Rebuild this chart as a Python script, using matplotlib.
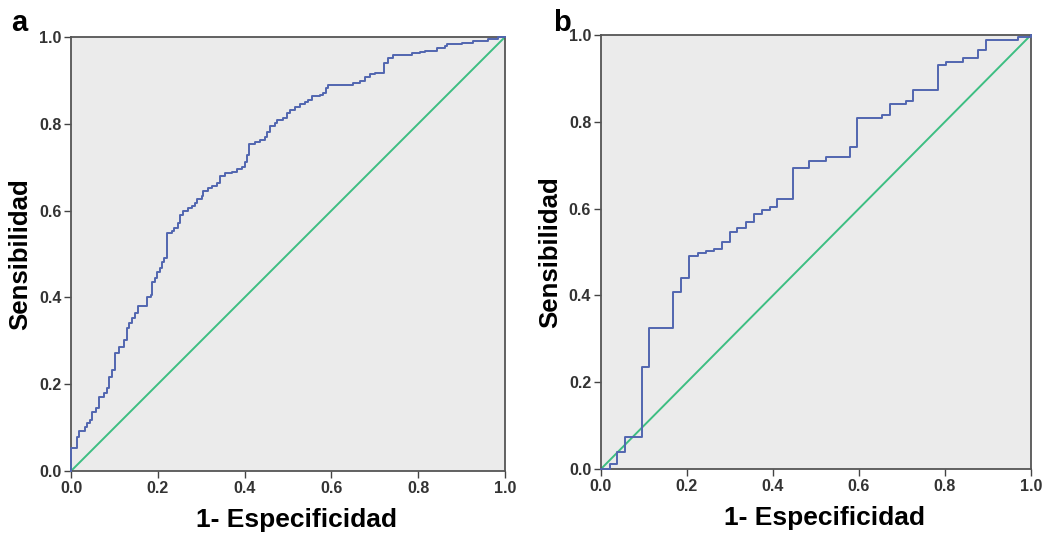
import matplotlib
matplotlib.use("Agg")
import matplotlib.pyplot as plt

# Panel a: ROC step points (1-specificity, sensitivity level after step)
fpr_a = [0.0, 0.014, 0.019, 0.031, 0.036, 0.044, 0.048, 0.058, 0.065, 0.077,
         0.082, 0.088, 0.094, 0.102, 0.111, 0.121, 0.128, 0.134, 0.140, 0.147,
         0.155, 0.176, 0.184, 0.186, 0.194, 0.197, 0.204, 0.209, 0.214, 0.222,
         0.232, 0.237, 0.247, 0.251, 0.259, 0.270, 0.278, 0.286, 0.290, 0.301,
         0.305, 0.316, 0.324, 0.336, 0.343, 0.355, 0.370, 0.382, 0.393, 0.401,
         0.406, 0.411, 0.424, 0.435, 0.447, 0.452, 0.459, 0.470, 0.475, 0.489,
         0.497, 0.505, 0.516, 0.528, 0.539, 0.547, 0.555, 0.574, 0.580, 0.588,
         0.593, 0.650, 0.666, 0.677, 0.689, 0.700, 0.722, 0.731, 0.743, 0.785,
         0.804, 0.816, 0.843, 0.862, 0.866, 0.900, 0.927, 0.960, 0.985, 1.0]
tpr_a = [0.052, 0.078, 0.093, 0.101, 0.110, 0.117, 0.137, 0.144, 0.170, 0.179,
         0.191, 0.217, 0.233, 0.271, 0.286, 0.302, 0.329, 0.340, 0.352, 0.363,
         0.379, 0.400, 0.406, 0.436, 0.444, 0.459, 0.467, 0.482, 0.490, 0.548,
         0.552, 0.559, 0.572, 0.590, 0.598, 0.605, 0.611, 0.617, 0.626, 0.634,
         0.644, 0.651, 0.657, 0.663, 0.680, 0.686, 0.690, 0.695, 0.701, 0.713,
         0.728, 0.753, 0.758, 0.763, 0.769, 0.780, 0.794, 0.801, 0.809, 0.813,
         0.824, 0.832, 0.839, 0.846, 0.851, 0.855, 0.863, 0.866, 0.872, 0.882,
         0.889, 0.893, 0.898, 0.908, 0.915, 0.918, 0.939, 0.951, 0.959, 0.964,
         0.966, 0.968, 0.974, 0.979, 0.984, 0.987, 0.991, 0.996, 1.0, 1.0]

# Panel b
fpr_b = [0.0, 0.021, 0.038, 0.057, 0.095, 0.112, 0.168, 0.187, 0.205, 0.226,
         0.245, 0.263, 0.281, 0.300, 0.317, 0.337, 0.356, 0.374, 0.393, 0.410,
         0.447, 0.484, 0.523, 0.579, 0.596, 0.653, 0.672, 0.709, 0.726, 0.784,
         0.802, 0.841, 0.877, 0.895, 0.970, 1.0]
tpr_b = [0.0, 0.012, 0.040, 0.074, 0.236, 0.326, 0.408, 0.440, 0.491, 0.497,
         0.502, 0.507, 0.524, 0.547, 0.555, 0.570, 0.587, 0.596, 0.604, 0.622,
         0.694, 0.710, 0.719, 0.742, 0.808, 0.816, 0.840, 0.848, 0.873, 0.931,
         0.938, 0.947, 0.965, 0.988, 0.995, 1.0]

ref_line = [0.0, 1.0]
ticks = [0.0, 0.2, 0.4, 0.6, 0.8, 1.0]
tick_labels = ["0.0", "0.2", "0.4", "0.6", "0.8", "1.0"]
panel_labels = ["a", "b"]
xlabel = "1- Especificidad"
ylabel = "Sensibilidad"

plt.rcParams['font.family'] = ['Liberation Sans', 'DejaVu Sans']

fig = plt.figure(figsize=(10.51, 5.36), dpi=100)
fig.patch.set_facecolor("white")
axes_pos = [[0.0676, 0.1213, 0.4129, 0.8097],
            [0.5718, 0.1250, 0.4091, 0.8097]]
letter_pos = [(0.011, 0.958), (0.526, 0.958)]

blue = "#5166B0"
green = "#3DBE82"

for i, (fx, ty) in enumerate([(fpr_a, tpr_a), (fpr_b, tpr_b)]):
    ax = fig.add_axes(axes_pos[i])
    ax.set_facecolor("#EBEBEB")
    ax.plot(ref_line, ref_line, color=green, lw=1.4, zorder=2)
    ax.step([0.0] + fx, [0.0] + ty, where="post", color=blue, lw=1.4, zorder=3,
            clip_on=False)
    ax.set_xlim(0, 1)
    ax.set_ylim(0, 1)
    ax.set_xticks(ticks)
    ax.set_yticks(ticks)
    ax.set_xticklabels(tick_labels, fontsize=11.5, fontweight="bold", color="#333333")
    ax.set_yticklabels(tick_labels, fontsize=11.5, fontweight="bold", color="#333333")
    ax.tick_params(direction="out", length=5, width=1, color="#444444", pad=2)
    for s in ax.spines.values():
        s.set_color("#555555")
        s.set_linewidth(1.3)
    ax.set_xlabel(xlabel, fontsize=19, fontweight="bold")
    ax.set_ylabel(ylabel, fontsize=18.5, fontweight="bold", labelpad=5)
    ax.xaxis.set_label_coords(0.52, -0.085, transform=ax.transAxes)
    ax.xaxis.label.set_va("top")
    fig.text(letter_pos[i][0], letter_pos[i][1], panel_labels[i], fontsize=21,
             fontweight="bold", va="center", ha="left")

fig.savefig("out.png", dpi=100)
